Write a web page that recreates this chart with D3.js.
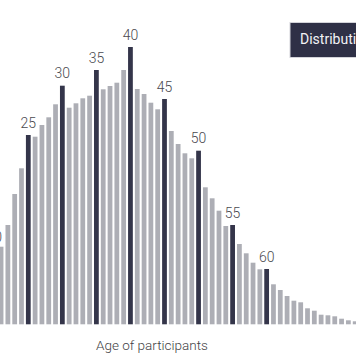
<!DOCTYPE html>
<html>
<head>
<meta charset="utf-8">
<script src="https://cdn.jsdelivr.net/npm/d3@7"></script>
<style>
  html, body { margin: 0; padding: 0; background: #ffffff; overflow: hidden; }
  svg { display: block; font-family: Roboto, "Noto Sans", sans-serif; }
</style>
</head>
<body>
<svg id="chart" width="356" height="364"></svg>
<script>
// ---- data ----
const ages = d3.range(20, 74);
const participants = [
  745, 776, 993, 1303, 1560, 1893, 1876, 1993, 2070, 2200,
  2386, 2166, 2210, 2260, 2286, 2543, 2350, 2383, 2416, 2543,
  2773, 2353, 2303, 2216, 2150, 2253, 1933, 1803, 1710, 1660,
  1736, 1370, 1260, 1136, 983, 993, 803, 710, 616, 550,
  553, 400, 343, 283, 236, 220, 160, 136, 96, 90,
  80, 56, 40, 30
];
const labelAges = [20, 25, 30, 35, 40, 45, 50, 55, 60];
const axisTitle = "Age of participants";
const legendTitle = "Distribution of participants by age";

const data = ages.map((a, i) => ({ age: a, value: participants[i] }));

// ---- layout ----
const svg = d3.select("#chart");
const baseline = 324.3;
const step = 6.81;
const padInner = 0.3;
const x0 = -5.75 - step * (1 - padInner) / 2;
const x = d3.scaleBand()
  .domain(ages)
  .range([x0, x0 + step * (ages.length - padInner)])
  .paddingInner(padInner)
  .paddingOuter(0);
const y = d3.scaleLinear().domain([0, 3000]).range([baseline, baseline - 300]);

const dark = "#34354a";
const light = "#adaeb5";

svg.append("g").selectAll("rect")
  .data(data)
  .join("rect")
  .attr("x", d => x(d.age))
  .attr("width", x.bandwidth())
  .attr("y", d => y(d.value))
  .attr("height", d => y(0) - y(d.value))
  .attr("fill", d => labelAges.includes(d.age) ? dark : light);

svg.append("g").selectAll("text")
  .data(data.filter(d => labelAges.includes(d.age)))
  .join("text")
  .attr("x", d => x(d.age) + x.bandwidth() / 2)
  .attr("y", d => y(d.value) - 7.5)
  .attr("text-anchor", "middle")
  .attr("font-size", 14)
  .attr("font-weight", 300)
  .attr("fill", "#4a4a4f")
  .text(d => d.age);

svg.append("text")
  .attr("x", 152)
  .attr("y", 350)
  .attr("text-anchor", "middle")
  .attr("font-size", 13.5)
  .attr("font-weight", 300)
  .attr("fill", "#3f3f45")
  .text(axisTitle);

// legend / title box (clipped at right edge)
const lg = svg.append("g").attr("transform", "translate(290,22.5)");
lg.append("rect")
  .attr("width", 240)
  .attr("height", 35)
  .attr("fill", "#2f3046")
  .attr("stroke", "#d4d4da")
  .attr("stroke-width", 1);
lg.append("text")
  .attr("x", 10)
  .attr("y", 21.5)
  .attr("font-size", 14)
  .attr("fill", "#f2f2f5")
  .text(legendTitle);
</script>
</body>
</html>
